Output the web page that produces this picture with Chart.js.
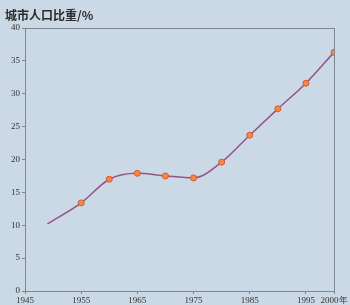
<!DOCTYPE html>
<html>
<head>
<meta charset="utf-8">
<script src="https://cdn.jsdelivr.net/npm/chart.js@4"></script>
<style>
  html, body { margin: 0; padding: 0; background: #cbd8e6; }
  #wrap { width: 350px; height: 305px; }
</style>
</head>
<body>
<div id="wrap"><canvas id="urban"></canvas></div>
<script>
// years and urban population share (%)
const years = [1949, 1955, 1960, 1965, 1970, 1975, 1980, 1985, 1990, 1995, 2000];
const share = [10.2, 13.4, 17.0, 17.9, 17.5, 17.2, 19.6, 23.7, 27.7, 31.6, 36.3];
const xTicks = [1945, 1955, 1965, 1975, 1985, 1995, 2000];
const yTicks = [0, 5, 10, 15, 20, 25, 30, 35, 40];
const titleText = "城市人口比重/%";

const tickFont = { family: "'Liberation Serif', 'DejaVu Serif', serif", size: 9 };

const framePlugin = {
  id: "frame",
  beforeDraw(chart) {
    const c = chart.ctx;
    c.save();
    c.fillStyle = "#cbd8e6";
    c.fillRect(0, 0, chart.width, chart.height);
    c.restore();
  },
  afterDraw(chart) {
    const a = chart.chartArea;
    const c = chart.ctx;
    c.save();
    c.strokeStyle = "#7d8894";
    c.lineWidth = 1;
    c.strokeRect(a.left + 0.5, a.top + 0.5, a.right - a.left, a.bottom - a.top);
    // title text
    c.fillStyle = "#2a2a2a";
    c.font = "bold 12px 'Noto Sans CJK SC', sans-serif";
    c.textBaseline = "middle";
    c.fillText(titleText, 5, 15);
    c.restore();
  },
};

(function () {
  const ctx = document.getElementById("urban");
  new Chart(ctx, {
    type: "line",
    data: {
      datasets: [
        {
          data: years.map((y, i) => ({ x: y, y: share[i] })),
          borderColor: "#955386",
          borderWidth: 1.5,
          cubicInterpolationMode: "monotone",
          pointRadius: (c) => (c.dataIndex === 0 ? 0 : 3),
          pointBackgroundColor: "#f08a4a",
          pointBorderColor: "#e0562a",
          pointBorderWidth: 1,
        },
      ],
    },
    options: {
      responsive: true,
      maintainAspectRatio: false,
      animation: false,
      layout: { padding: { left: 0, right: 16, top: 28, bottom: 0 } },
      plugins: {
        legend: { display: false },
        tooltip: { enabled: false },
      },
      scales: {
        x: {
          type: "linear",
          min: 1945,
          max: 2000,
          afterBuildTicks: (s) => {
            s.ticks = xTicks.map((v) => ({ value: v }));
          },
          afterFit: (s) => {
            s.height = 14;
          },
          ticks: {
            autoSkip: false,
            maxRotation: 0,
            padding: 1,
            color: "#333",
            font: tickFont,
            callback: (v) => (v === 2000 ? "2000年" : String(v)),
          },
          grid: { drawOnChartArea: false, tickLength: 3, color: "#7d8894" },
          border: { color: "#6d7884" },
        },
        y: {
          min: 0,
          max: 40,
          afterBuildTicks: (s) => {
            s.ticks = yTicks.map((v) => ({ value: v }));
          },
          afterFit: (s) => {
            s.width = 25;
          },
          ticks: {
            padding: 2,
            color: "#333",
            font: tickFont,
          },
          grid: { drawOnChartArea: false, tickLength: 3, color: "#7d8894" },
          border: { color: "#6d7884" },
        },
      },
    },
    plugins: [framePlugin],
  });
})();
</script>
</body>
</html>
